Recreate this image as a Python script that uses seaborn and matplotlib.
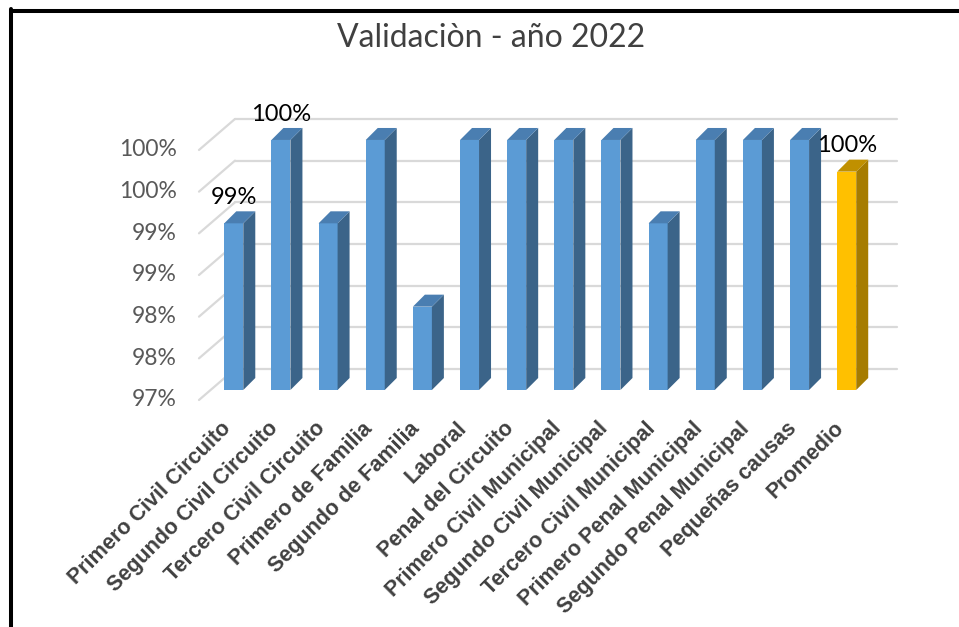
import numpy as np
import pandas as pd
import matplotlib.pyplot as plt
from matplotlib.lines import Line2D
from matplotlib.transforms import ScaledTranslation
import seaborn as sns

# data
juzgados = [
    "Primero Civil Circuito",
    "Segundo Civil Circuito",
    "Tercero Civil Circuito",
    "Primero de Familia",
    "Segundo de Familia",
    "Laboral",
    "Penal del Circuito",
    "Primero Civil Municipal",
    "Segundo Civil Municipal",
    "Tercero Civil Municipal",
    "Primero Penal Municipal",
    "Segundo Penal Municipal",
    "Pequeñas causas",
    "Promedio",
]
validacion = [0.99, 1.00, 0.99, 1.00, 0.98, 1.00, 1.00, 1.00, 1.00, 0.99, 1.00, 1.00, 1.00, 0.9962]
con_etiqueta = ["Primero Civil Circuito", "Segundo Civil Circuito", "Promedio"]
yticks = [0.97, 0.975, 0.98, 0.985, 0.99, 0.995, 1.00]
ytick_labels = ["97%", "98%", "98%", "99%", "99%", "100%", "100%"]

front_colors = ["#5B9BD5"] * 13 + ["#FFC000"]
side_colors = ["#3B6489"] * 13 + ["#A67C00"]
top_colors = ["#4A7EB1"] * 13 + ["#C09000"]

sns.set_style("white")
plt.rcParams["font.family"] = ["Lato", "DejaVu Sans"]

# fake 3d geometry (data units)
floor = 0.97
ddx, ddy = 0.2545, 0.00144          # bar depth
front_dy = -0.0012                  # front plane (tick labels)
back_dy = 0.00252                   # back wall gridlines
front_x, back_x0, back_x1 = -0.738, 0.025, 14.07
label_x = -1.205

fig = plt.figure(figsize=(9.59, 6.27), dpi=100)
ax = fig.add_axes([0.2192, 0.3780, 0.6883, 0.4785])

df = pd.DataFrame({"juzgado": juzgados, "valor": validacion})
sns.barplot(data=df, x="juzgado", y="valor", hue="juzgado", palette=front_colors,
            legend=False, width=0.403, saturation=1, ax=ax, zorder=3, linewidth=0)

ax.set_ylim(floor, 1.006)
ax.set_xlim(-0.5, 13.5)

bars = sorted(ax.patches, key=lambda p: p.get_x())
for p, sc, tc in zip(bars, side_colors, top_colors):
    x0, w = p.get_x(), p.get_width()
    top = p.get_y() + p.get_height()
    ax.fill([x0 + w, x0 + w, x0 + w + ddx, x0 + w + ddx],
            [floor, top, top + ddy, floor + ddy], color=sc, lw=0, zorder=3, clip_on=False)
    ax.fill([x0, x0 + w, x0 + w + ddx, x0 + ddx],
            [top, top, top + ddy, top + ddy], color=tc, lw=0, zorder=3, clip_on=False)

# back wall gridlines and side diagonals
for t, lab in zip(yticks, ytick_labels):
    ax.plot([back_x0, back_x1], [t + back_dy, t + back_dy], color="#D9D9D9", lw=1.6,
            zorder=1, clip_on=False)
    ax.plot([front_x, back_x0], [t + front_dy, t + back_dy], color="#D9D9D9", lw=1.6,
            zorder=1, clip_on=False)
    ax.text(label_x, t + front_dy, lab, ha="right", va="center", fontsize=16.5,
            color="#595959")

for i, (j, v) in enumerate(zip(juzgados, validacion)):
    if j in con_etiqueta:
        ax.annotate(f"{v:.0%}", (i, v), xytext=(0, 18.7), textcoords="offset points",
                    ha="center", va="center", fontsize=17, color="black")

# category labels, rotated, ending just under each bar
cat_trans = ax.transData + ScaledTranslation(-6 / 100, -35.5 / 100, fig.dpi_scale_trans)
for i, j in enumerate(juzgados):
    ax.text(i, floor, j, transform=cat_trans, rotation=45, ha="right", va="center",
            rotation_mode="anchor", fontweight="bold", fontsize=15.5, color="#404040",
            family=["Liberation Sans", "DejaVu Sans"])

ax.set_yticks([])
ax.set_xticks([])
ax.set_xlabel("")
ax.set_ylabel("")
sns.despine(ax=ax, left=True, bottom=True)

fig.text(491.5 / 959, 1 - 38 / 627, "Validaciòn - año 2022", ha="center", va="center",
         fontsize=23, color="#404040")

# frame lines
fig.add_artist(Line2D([11 / 959, 1], [1 - 11 / 627] * 2, color="black", lw=2.9,
                      transform=fig.transFigure))
fig.add_artist(Line2D([11 / 959] * 2, [0, 1 - 9 / 627], color="black", lw=2.9,
                      transform=fig.transFigure))

fig.savefig("out.png", dpi=100)
